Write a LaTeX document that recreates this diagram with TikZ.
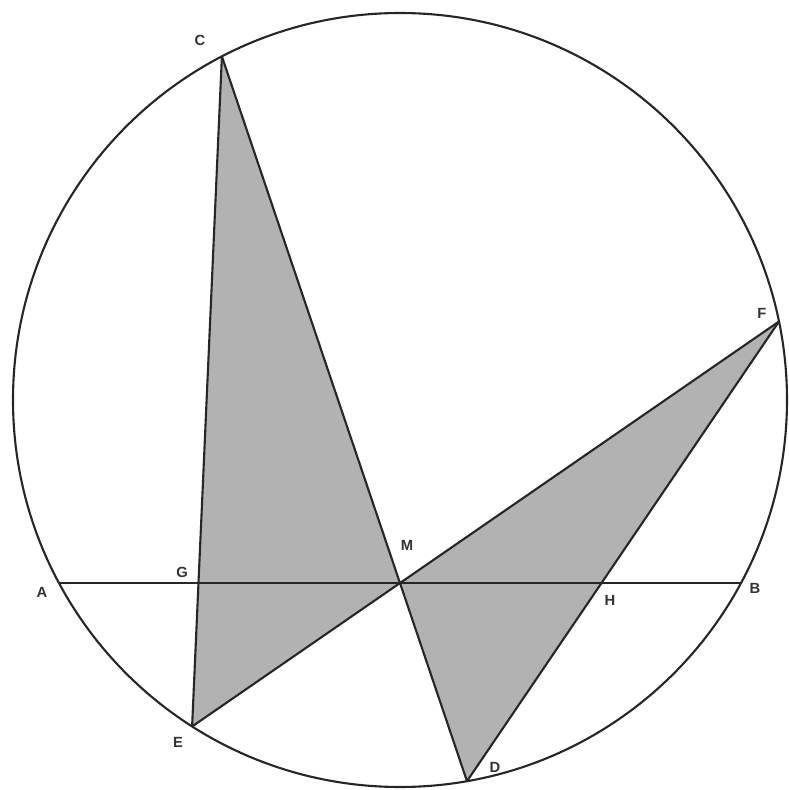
\documentclass[tikz,border=0pt]{standalone}
\usepackage{fontspec}
\setmainfont{Liberation Sans}
\begin{document}
\begin{tikzpicture}[
  geo/.style={line width=0.6pt, black!85},
  shade/.style={fill=black!30},
  lbl/.style={font=\fontsize{4.2}{5}\selectfont\bfseries, text=black!80, inner sep=0pt}
]
\useasboundingbox (0,0) rectangle (7.89,7.90);
\coordinate (O) at (4.0,3.9);
\coordinate (A) at (0.59,2.07);
\coordinate (B) at (7.41,2.07);
\coordinate (M) at (4.0,2.07);
\coordinate (C) at (2.219,7.336);
\coordinate (D) at (4.670,0.088);
\coordinate (E) at (1.921,0.635);
\coordinate (F) at (7.790,4.685);
\coordinate (G) at (intersection of C--E and A--B);
\coordinate (H) at (intersection of F--D and A--B);
% shaded triangles
\fill[shade] (C) -- (E) -- (M) -- cycle;
\fill[shade] (F) -- (M) -- (D) -- cycle;
% lines
\draw[geo] (O) circle (3.87);
\draw[geo] (A) -- (B);
\draw[geo] (C) -- (E);
\draw[geo] (C) -- (D);
\draw[geo] (E) -- (F);
\draw[geo] (F) -- (D);
% labels
\node[lbl] (lC) at (2.00,7.50) {C};
\node[lbl] (lF) at (7.62,4.77) {F};
\node[lbl] (lE) at (1.78,0.48) {E};
\node[lbl] (lD) at (4.95,0.23) {D};
\node[lbl] (lA) at (0.42,1.98) {A};
\node[lbl] (lG) at (1.82,2.18) {G};
\node[lbl] (lM) at (4.07,2.45) {M};
\node[lbl] (lH) at (6.10,1.90) {H};
\node[lbl] (lB) at (7.55,2.02) {B};
\end{tikzpicture}
\end{document}
